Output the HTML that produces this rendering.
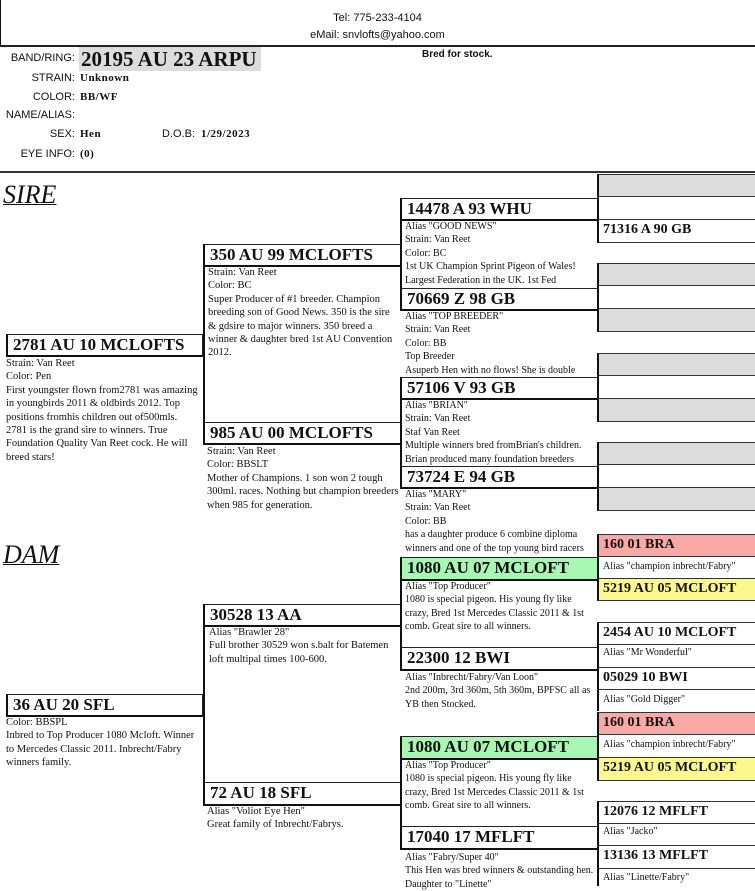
<!DOCTYPE html>
<html><head><meta charset="utf-8"><style>
body{margin:0;width:755px;height:886px;position:relative;overflow:hidden;background:#fff;font-family:"Liberation Serif",serif;color:#111}
.a{position:absolute}
.s{font-family:"Liberation Sans",sans-serif}
.lab{position:absolute;right:680px;font-family:"Liberation Sans",sans-serif;font-size:11px;text-align:right;white-space:nowrap}
.val{position:absolute;left:80px;font-weight:bold;font-size:11px;letter-spacing:.5px}
.b{position:absolute;box-sizing:border-box;border:1px solid #222;border-left:2px solid #111;border-bottom:2px solid #111;font-weight:bold;white-space:nowrap;overflow:hidden}
.b1{font-size:17px;line-height:20px;padding-left:5px}
.r{position:absolute;box-sizing:border-box;border-left:2px solid #111;border-bottom:1px solid #333;font-size:10px;line-height:20px;padding-left:4px;white-space:nowrap}
.r.b4{font-size:14px;line-height:20px;padding-left:4px;font-weight:bold}
.t{position:absolute;font-size:10.5px;line-height:13.4px}
.t3{font-size:10px}
.v{position:absolute;width:0;border-left:2px solid #111}
</style></head><body>
<div class="a" style="left:0;top:0;width:1px;height:46px;background:#111"></div>
<div class="a" style="left:0;top:45px;width:755px;height:2px;background:#222"></div>
<div class="a s" style="left:0;top:10px;width:755px;text-align:center;font-size:11px;line-height:17px">Tel: 775-233-4104<br>eMail: snvlofts@yahoo.com</div>
<div class="a s" style="left:422px;top:49px;font-size:10px;font-weight:bold">Bred for stock.</div>
<div class="lab" style="top:52px">BAND/RING:</div>
<div class="a" style="left:79px;top:47px;width:182px;height:24px;background:#dcdcdc;font-weight:bold;font-size:21px;line-height:25px;padding-left:2px;box-sizing:border-box">20195 AU 23 ARPU</div>
<div class="lab" style="top:72px">STRAIN:</div><div class="val" style="top:72px">Unknown</div>
<div class="lab" style="top:91px">COLOR:</div><div class="val" style="top:91px">BB/WF</div>
<div class="lab" style="top:109px">NAME/ALIAS:</div>
<div class="lab" style="top:128px">SEX:</div><div class="val" style="top:128px">Hen</div>
<div class="a s" style="left:162px;top:128px;font-size:11px">D.O.B:</div><div class="val" style="left:201px;top:128px">1/29/2023</div>
<div class="lab" style="top:148px">EYE INFO:</div><div class="val" style="top:148px">(0)</div>
<div class="a" style="left:0;top:171px;width:755px;height:2px;background:#333"></div>

<div class="a" style="left:3px;top:180px;font-size:26px;font-style:italic;text-decoration:underline;text-decoration-thickness:1px">SIRE</div>
<div class="a" style="left:3px;top:540px;font-size:26px;font-style:italic;text-decoration:underline;text-decoration-thickness:1px">DAM</div>

<!-- gen1 -->
<div class="b b1" style="left:6px;top:334px;width:197px;height:23px">2781 AU 10 MCLOFTS</div>
<div class="t" style="left:6px;top:357px;width:192px">Strain: Van Reet<br>Color: Pen<br>First youngster flown from2781 was amazing in youngbirds 2011 &amp; oldbirds 2012. Top positions fromhis children out of500mls. 2781 is the grand sire to winners. True Foundation Quality Van Reet cock. He will breed stars!</div>
<div class="b b1" style="left:6px;top:694px;width:197px;height:23px">36 AU 20 SFL</div>
<div class="t" style="left:6px;top:716px;width:196px">Color: BBSPL<br>Inbred to Top Producer 1080 Mcloft. Winner to Mercedes Classic 2011. Inbrecht/Fabry winners family.</div>

<!-- gen2 -->
<div class="v" style="left:203px;top:255px;height:180px"></div>
<div class="b b1" style="left:203px;top:244px;width:198px;height:23px">350 AU 99 MCLOFTS</div>
<div class="t" style="left:208px;top:266px;width:192px">Strain: Van Reet<br>Color: BC<br>Super Producer of #1 breeder. Champion breeding son of Good News. 350 is the sire &amp; gdsire to major winners. 350 breed a winner &amp; daughter bred 1st AU Convention 2012.</div>
<div class="b b1" style="left:203px;top:422px;width:198px;height:23px">985 AU 00 MCLOFTS</div>
<div class="t" style="left:207px;top:445px;width:194px">Strain: Van Reet<br>Color: BBSLT<br>Mother of Champions. 1 son won 2 tough 300ml. races. Nothing but champion breeders when 985 for generation.</div>

<div class="v" style="left:203px;top:615px;height:180px"></div>
<div class="b b1" style="left:203px;top:604px;width:198px;height:23px">30528 13 AA</div>
<div class="t" style="left:209px;top:626px;width:190px">Alias "Brawler 28"<br>Full brother 30529 won s.balt for Batemen loft multipal times 100-600.</div>
<div class="b b1" style="left:203px;top:782px;width:198px;height:24px">72 AU 18 SFL</div>
<div class="t" style="left:207px;top:805px;width:194px">Alias "Voliot Eye Hen"<br>Great family of Inbrecht/Fabrys.</div>

<!-- gen3 -->
<div class="v" style="left:400px;top:210px;height:90px"></div>
<div class="v" style="left:400px;top:388px;height:90px"></div>
<div class="v" style="left:400px;top:568px;height:90px"></div>
<div class="v" style="left:400px;top:747px;height:90px"></div>
<div class="b b1" style="left:400px;top:198px;width:198px;height:23px">14478 A 93 WHU</div>
<div class="t t3" style="left:405px;top:220px;width:192px;white-space:nowrap">Alias "GOOD NEWS"<br>Strain: Van Reet<br>Color: BC<br>1st UK Champion Sprint Pigeon of Wales!<br>Largest Federation in the UK. 1st Fed</div>
<div class="b b1" style="left:400px;top:288px;width:198px;height:23px">70669 Z 98 GB</div>
<div class="t t3" style="left:405px;top:310px;width:192px;white-space:nowrap">Alias "TOP BREEDER"<br>Strain: Van Reet<br>Color: BB<br>Top Breeder<br>Asuperb Hen with no flows! She is double</div>
<div class="b b1" style="left:400px;top:377px;width:198px;height:23px">57106 V 93 GB</div>
<div class="t t3" style="left:405px;top:399px;width:192px;white-space:nowrap">Alias "BRIAN"<br>Strain: Van Reet<br>Staf Van Reet<br>Multiple winners bred fromBrian's children.<br>Brian produced many foundation breeders</div>
<div class="b b1" style="left:400px;top:466px;width:198px;height:23px">73724 E 94 GB</div>
<div class="t t3" style="left:405px;top:488px;width:192px;white-space:nowrap">Alias "MARY"<br>Strain: Van Reet<br>Color: BB<br>has a daughter produce 6 combine diploma<br>winners and one of the top young bird racers</div>
<div class="b b1" style="left:400px;top:557px;width:198px;height:24px;background:#a9f5b4">1080 AU 07 MCLOFT</div>
<div class="t t3" style="left:405px;top:580px;width:192px">Alias "Top Producer"<br>1080 is special pigeon. His young fly like crazy, Bred 1st Mercedes Classic 2011 &amp; 1st comb. Great sire to all winners.</div>
<div class="b b1" style="left:400px;top:647px;width:198px;height:24px">22300 12 BWI</div>
<div class="t t3" style="left:405px;top:671px;width:192px">Alias "Inbrecht/Fabry/Van Loon"<br>2nd 200m, 3rd 360m, 5th 360m, BPFSC all as YB then Stocked.</div>
<div class="b b1" style="left:400px;top:736px;width:198px;height:24px;background:#a9f5b4">1080 AU 07 MCLOFT</div>
<div class="t t3" style="left:405px;top:759px;width:192px">Alias "Top Producer"<br>1080 is special pigeon. His young fly like crazy, Bred 1st Mercedes Classic 2011 &amp; 1st comb. Great sire to all winners.</div>
<div class="b b1" style="left:400px;top:826px;width:198px;height:24px">17040 17 MFLFT</div>
<div class="t t3" style="left:405px;top:851px;width:192px">Alias "Fabry/Super 40"<br>This Hen was bred winners &amp; outstanding hen. Daughter to "Linette"</div>

<!-- gen4 sire -->
<div class="r" style="left:597px;top:174px;width:158px;height:23px;background:#dcdcdc;border-top:1px solid #333"></div>
<div class="r" style="left:597px;top:197px;width:158px;height:23px"></div>
<div class="r b4" style="left:597px;top:220px;width:158px;height:23px">71316 A 90 GB</div>
<div class="r" style="left:597px;top:263px;width:158px;height:23px;background:#dcdcdc;border-top:1px solid #333"></div>
<div class="r" style="left:597px;top:286px;width:158px;height:23px"></div>
<div class="r" style="left:597px;top:309px;width:158px;height:23px;background:#dcdcdc"></div>
<div class="r" style="left:597px;top:353px;width:158px;height:23px;background:#dcdcdc;border-top:1px solid #333"></div>
<div class="r" style="left:597px;top:376px;width:158px;height:23px"></div>
<div class="r" style="left:597px;top:399px;width:158px;height:23px;background:#dcdcdc"></div>
<div class="r" style="left:597px;top:442px;width:158px;height:23px;background:#dcdcdc;border-top:1px solid #333"></div>
<div class="r" style="left:597px;top:465px;width:158px;height:23px"></div>
<div class="r" style="left:597px;top:488px;width:158px;height:23px;background:#dcdcdc"></div>

<!-- gen4 dam -->
<div class="r b4" style="left:597px;top:534px;width:158px;height:23px;background:#f8a9a6;border-top:1px solid #333">160 01 BRA</div>
<div class="r" style="left:597px;top:557px;width:158px;height:22px">Alias "champion inbrecht/Fabry"</div>
<div class="r b4" style="left:597px;top:579px;width:158px;height:22px;background:#fbf98e">5219 AU 05 MCLOFT</div>
<div class="r b4" style="left:597px;top:622px;width:158px;height:23px;border-top:1px solid #333">2454 AU 10 MCLOFT</div>
<div class="r" style="left:597px;top:645px;width:158px;height:23px;line-height:16px">Alias "Mr Wonderful"</div>
<div class="r b4" style="left:597px;top:668px;width:158px;height:22px">05029 10 BWI</div>
<div class="r" style="left:597px;top:690px;width:158px;height:21px;border-bottom:none">Alias "Gold Digger"</div>
<div class="r b4" style="left:597px;top:712px;width:158px;height:23px;background:#f8a9a6;border-top:1px solid #333">160 01 BRA</div>
<div class="r" style="left:597px;top:735px;width:158px;height:23px">Alias "champion inbrecht/Fabry"</div>
<div class="r b4" style="left:597px;top:758px;width:158px;height:23px;background:#fbf98e">5219 AU 05 MCLOFT</div>
<div class="r b4" style="left:597px;top:801px;width:158px;height:23px;border-top:1px solid #333">12076 12 MFLFT</div>
<div class="r" style="left:597px;top:824px;width:158px;height:22px;line-height:16px">Alias "Jacko"</div>
<div class="r b4" style="left:597px;top:846px;width:158px;height:23px">13136 13 MFLFT</div>
<div class="r" style="left:597px;top:869px;width:158px;height:17px;border-bottom:none;line-height:18px">Alias "Linette/Fabry"</div>
</body></html>
